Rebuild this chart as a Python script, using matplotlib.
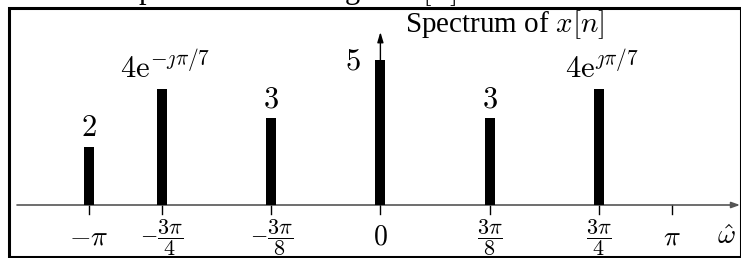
import numpy as np
import matplotlib
matplotlib.use("Agg")
import matplotlib.pyplot as plt
from matplotlib.patches import Rectangle

plt.rcParams['mathtext.fontset'] = 'cm'
plt.rcParams['font.family'] = ['Liberation Serif', 'DejaVu Serif']

# data (frequencies in units of pi)
freqs = [-1.0, -0.75, -0.375, 0.0, 0.375, 0.75]
mags = [2, 4, 3, 5, 3, 4]
labels = ['$2$', r'$4\mathrm{e}^{-\jmath\pi/7}$', '$3$', '$5$', '$3$', r'$4\mathrm{e}^{\jmath\pi/7}$']
tick_pos = [-1.0, -0.75, -0.375, 0.0, 0.375, 0.75, 1.0]
tick_labels = [r'$-\pi$', r'$-\dfrac{3\pi}{4}$', r'$-\dfrac{3\pi}{8}$', '$0$',
               r'$\dfrac{3\pi}{8}$', r'$\dfrac{3\pi}{4}$', r'$\pi$']

W, H = 741, 258
fig = plt.figure(figsize=(W / 100, H / 100), dpi=100)
ax = fig.add_axes([0, 0, 1, 1])
ax.axis('off')

# pixel mapping: x_px = 380.4 + 291.5*w ; y_px(from top) = 205 - 29*v
x0, sx = 380.4, 291.5
y0, sy = 205.0, 29.0
ax.set_xlim((0 - x0) / sx, (W - x0) / sx)
ax.set_ylim(-(H - y0) / sy, y0 / sy)

def px2x(p):
    return (p - x0) / sx

def px2y(p):
    return (y0 - p) / sy

# frame
ax.add_patch(Rectangle((9 / W, 1.5 / H), (741 - 9) / W, (250.5 - 1.5) / H, transform=ax.transAxes,
                       fill=False, lw=2.2, edgecolor='black', clip_on=False))

# caption above the frame (cut off by the top edge, as in the reference)
fig.text(122 / W, 1 + 1.5 / H, r'Spectrum of the signal $x[n]$', ha='left', va='baseline',
         fontsize=22)

# horizontal axis
ax.annotate('', xy=(px2x(740), 0), xytext=(px2x(17), 0),
            arrowprops=dict(arrowstyle='-|>,head_length=0.5,head_width=0.18', color='#555555',
                            lw=1.2, shrinkA=0, shrinkB=0))
# vertical arrow
ax.annotate('', xy=(0, px2y(32)), xytext=(0, 0),
            arrowprops=dict(arrowstyle='-|>,head_length=0.6,head_width=0.18', color='black',
                            lw=1.0, shrinkA=0, shrinkB=0))

# bars
ax.bar(freqs, mags, width=10 / sx, color='black', zorder=3)

# ticks
for t in tick_pos:
    ax.plot([t, t], [0, px2y(214)], color='black', lw=1.0)
for t, lab in zip(tick_pos, tick_labels):
    fs = 16 if 'frac' in lab else 20
    ax.text(t, px2y(238), lab, ha='center', va='center', fontsize=fs)
ax.text(px2x(726), px2y(238), r'$\hat{\omega}$', ha='center', va='center', fontsize=20)

# value labels
for f, m, lab in zip(freqs, mags, labels):
    if f == 0.0:
        ax.text(px2x(361), m - 10 / sy, lab, ha='right', va='baseline', fontsize=22)
    else:
        dx = 3 / sx if 'e' in lab else 0
        ax.text(f + dx, m + 10.5 / sy, lab, ha='center', va='baseline', fontsize=22)

ax.text(px2x(405), px2y(32), r'Spectrum of $x[n]$', ha='left', va='baseline', fontsize=21)

fig.savefig('out.png', dpi=100)
